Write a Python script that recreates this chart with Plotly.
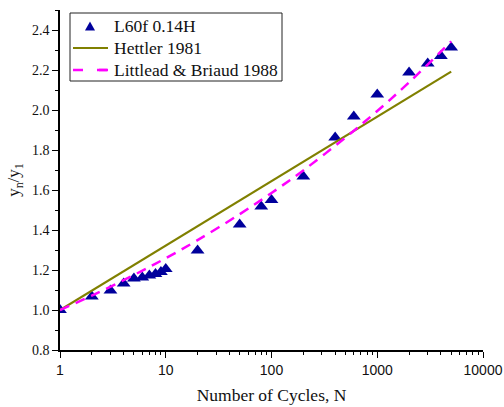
import plotly.graph_objects as go

# Measured displacement ratio for L60f 0.14H
cycles = [1, 2, 3, 4, 5, 6, 7, 8, 9, 10, 20, 50, 80, 100, 200, 400, 600,
          1000, 2000, 3000, 4000, 5000]
ratio = [1.00, 1.067, 1.097, 1.133, 1.158, 1.163, 1.172, 1.18, 1.19, 1.205,
         1.297, 1.427, 1.517, 1.55, 1.667, 1.862, 1.967, 2.078, 2.187,
         2.233, 2.27, 2.312]

# Hettler (1981) curve
hettler_n = [1, 10, 100, 1000, 5000]
hettler_y = [1.00, 1.322, 1.644, 1.967, 2.192]

# Littlead & Briaud (1988) curve
lb_n = [1, 2, 5, 10, 20, 50, 100, 200, 500, 1000, 2000, 5000]
lb_y = [1.00, 1.072, 1.175, 1.259, 1.349, 1.479, 1.585, 1.698, 1.862,
        1.995, 2.138, 2.343]

x_ticks = [1, 10, 100, 1000, 10000]
x_tick_text = ["1", "10", "100", "1000", "10000"]

serif = "Liberation Serif"
sans = "Liberation Sans"
ink = "#111111"
navy = "#00009C"
olive = "#808000"
magenta = "#FF00FF"

W, H = 504, 407
ML, MR, MT, MB = 60, 21, 10, 57
PW, PH = W - ML - MR, H - MT - MB


def px(x):
    """Horizontal pixel position -> paper coordinate."""
    return (x - ML) / PW


def py(y):
    """Vertical pixel position (from top) -> paper coordinate."""
    return 1 - (y - MT) / PH


fig = go.Figure()
fig.add_trace(go.Scatter(
    x=cycles, y=ratio, mode="markers", name="L60f 0.14H",
    marker=dict(symbol="triangle-up", size=12, color=navy,
                line=dict(width=0))))
fig.add_trace(go.Scatter(
    x=hettler_n, y=hettler_y, mode="lines", name="Hettler 1981",
    line=dict(color=olive, width=2.2)))
fig.add_trace(go.Scatter(
    x=lb_n, y=lb_y, mode="lines", name="Littlead & Briaud 1988",
    line=dict(color=magenta, width=2.5, dash="10px,7px", shape="spline")))

# Compact legend box drawn in paper space
legend_rows = [26, 48, 70]
legend_names = [t.name for t in fig.data]
shapes = [
    dict(type="rect", xref="paper", yref="paper",
         x0=px(70), x1=px(282), y0=py(81), y1=py(13),
         line=dict(color="#222222", width=1), fillcolor="white", layer="above"),
    dict(type="path", xref="paper", yref="paper",
         path=(f"M {px(85)} {py(30.5)} L {px(95)} {py(30.5)} "
               f"L {px(90)} {py(21.5)} Z"),
         fillcolor=navy, line=dict(width=0), layer="above"),
    dict(type="line", xref="paper", yref="paper",
         x0=px(73), x1=px(108), y0=py(legend_rows[1]), y1=py(legend_rows[1]),
         line=dict(color=olive, width=2.2), layer="above"),
    dict(type="line", xref="paper", yref="paper",
         x0=px(73), x1=px(108), y0=py(legend_rows[2]), y1=py(legend_rows[2]),
         line=dict(color=magenta, width=2.5, dash="10px,14px"), layer="above"),
    dict(type="line", xref="paper", yref="paper",
         x0=px(99), x1=px(108), y0=py(legend_rows[2]), y1=py(legend_rows[2]),
         line=dict(color=magenta, width=2.5), layer="above"),
]
annotations = [
    dict(xref="paper", yref="paper", x=px(112), y=py(row), text=name,
         showarrow=False, xanchor="left", yanchor="middle",
         font=dict(family=serif, size=17.5, color=ink))
    for row, name in zip(legend_rows, legend_names)
]

fig.update_layout(
    width=W, height=H,
    margin=dict(l=ML, r=MR, t=MT, b=MB, autoexpand=False),
    paper_bgcolor="white", plot_bgcolor="white",
    font=dict(family=serif, size=14, color=ink),
    showlegend=False,
    shapes=shapes,
    annotations=annotations,
)
fig.update_xaxes(
    type="log", range=[0, 4], automargin=False,
    tickvals=x_ticks, ticktext=x_tick_text,
    tickfont=dict(family=sans, size=14, color=ink),
    showgrid=False, zeroline=False,
    showline=True, linecolor="black", linewidth=1.5,
    ticks="outside", ticklen=6, tickwidth=1.2, tickcolor="black",
    minor=dict(ticks="outside", ticklen=3, tickwidth=1, tickcolor="black",
               dtick="D1", showgrid=False),
    title=dict(text="Number of Cycles, N",
               font=dict(family=serif, size=17.5, color=ink), standoff=12),
)
fig.update_yaxes(
    range=[0.8, 2.5], automargin=False,
    tick0=0.8, dtick=0.2, tickformat=".1f",
    tickfont=dict(family=serif, size=14, color=ink),
    showgrid=False, zeroline=False,
    showline=True, linecolor="black", linewidth=1.5,
    ticks="outside", ticklen=6, tickwidth=1.2, tickcolor="black",
    minor=dict(ticks="outside", ticklen=3, tickwidth=1, tickcolor="black",
               dtick=0.1, showgrid=False),
    title=dict(text="y<sub>n</sub>/y<sub>1</sub>",
               font=dict(family=serif, size=17, color=ink), standoff=8),
)

fig.write_html("out.html")
